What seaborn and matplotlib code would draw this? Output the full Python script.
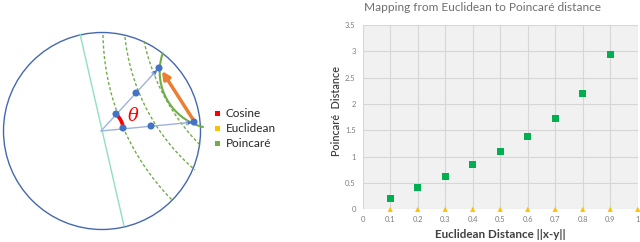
import numpy as np
import pandas as pd
import matplotlib
matplotlib.use("Agg")
import matplotlib.pyplot as plt
import seaborn as sns
from matplotlib.patches import Circle, Rectangle

# ---------------- data (right chart) ----------------
euclid_x = [0.1, 0.2, 0.3, 0.4, 0.5, 0.6, 0.7, 0.8, 0.9]
poincare_y = [0.20, 0.41, 0.62, 0.85, 1.10, 1.39, 1.73, 2.20, 2.94]
euclid_tri_x = [0.1, 0.2, 0.3, 0.4, 0.5, 0.6, 0.7, 0.8, 0.9, 1.0]
euclid_tri_y = [0, 0, 0, 0, 0, 0, 0, 0, 0, 0]
x_ticks = [0, 0.1, 0.2, 0.3, 0.4, 0.5, 0.6, 0.7, 0.8, 0.9, 1.0]
x_tick_labels = ["0", "0.1", "0.2", "0.3", "0.4", "0.5", "0.6", "0.7", "0.8", "0.9", "1"]
y_ticks = [0, 0.5, 1, 1.5, 2, 2.5, 3, 3.5]
y_tick_labels = ["0", "0.5", "1", "1.5", "2", "2.5", "3", "3.5"]
title = "Mapping from Euclidean to Poincaré distance"
x_label = "Euclidean Distance ||x-y||"
y_label = "Poincaré  Distance"

# ---------------- diagram legend ----------------
legend_labels = ["Cosine", "Euclidean", "Poincaré"]
legend_colors = ["#ff0000", "#ffc000", "#70ad47"]

sns.set_theme(style="white")
plt.rcParams['font.family'] = ['Lato', 'DejaVu Sans']

fig = plt.figure(figsize=(6.4, 2.42), dpi=100)

# ================= left diagram =================
axL = fig.add_axes([0, 0, 0.5, 1])
axL.set_xlim(0, 320)
axL.set_ylim(242, 0)
axL.axis('off')


def circle3(p1, p2, p3):
    (x1, y1), (x2, y2), (x3, y3) = p1, p2, p3
    A = np.array([[x2 - x1, y2 - y1], [x3 - x1, y3 - y1]], dtype=float) * 2
    b = np.array([x2**2 - x1**2 + y2**2 - y1**2, x3**2 - x1**2 + y3**2 - y1**2], dtype=float)
    c = np.linalg.solve(A, b)
    r = np.hypot(x1 - c[0], y1 - c[1])
    return c, r


def arc3(ax, p1, p2, p3, **kw):
    c, r = circle3(p1, p2, p3)
    a = [np.arctan2(p[1] - c[1], p[0] - c[0]) for p in (p1, p2, p3)]
    d13 = (a[2] - a[0]) % (2 * np.pi)
    d12 = (a[1] - a[0]) % (2 * np.pi)
    if d12 < d13:
        t = np.linspace(a[0], a[0] + d13, 200)
    else:
        t = np.linspace(a[0], a[0] - (2 * np.pi - d13), 200)
    ax.plot(c[0] + r * np.cos(t), c[1] + r * np.sin(t), **kw)


# disk boundary
axL.add_patch(Circle((102, 131), 98.5, fill=False, ec='#4468b0', lw=1.0))
# straight geodesic
axL.plot([80, 124], [34, 226], color='#8fe0bf', lw=1.0)

# dashed arcs
dash = dict(color='#70ad47', lw=1.0, ls=(0, (2.2, 1.6)))
arc3(axL, (103, 35), (117, 112), (172, 200), **dash)
arc3(axL, (125, 37), (140, 95), (195, 170), **dash)
arc3(axL, (144, 41), (162, 92), (201, 146), **dash)

# solid geodesic
arc3(axL, (162.7, 53.3), (161.5, 86), (203, 127), color='#70ad47', lw=1.5)

# vectors
O = (101, 131)
for end in [(157, 70), (192, 122.3)]:
    axL.annotate('', xy=end, xytext=O,
                 arrowprops=dict(arrowstyle='-|>', color='#9db3df', lw=1.0,
                                 mutation_scale=7, shrinkA=0, shrinkB=0))
axL.annotate('', xy=(157, 70), xytext=(150, 77.5),
             arrowprops=dict(arrowstyle='-|>', color='#4472c4', lw=0.1,
                             mutation_scale=7, shrinkA=0, shrinkB=0))
axL.annotate('', xy=(192, 122.3), xytext=(182, 123.3),
             arrowprops=dict(arrowstyle='-|>', color='#4472c4', lw=0.1,
                             mutation_scale=7, shrinkA=0, shrinkB=0))

# red angle arc
t = np.linspace(np.deg2rad(-48), np.deg2rad(-6), 60)
axL.plot(O[0] + 22.5 * np.cos(t), O[1] + 22.5 * np.sin(t),
         color='#ff0000', lw=2.6, solid_capstyle='butt')
axL.text(133, 116, 'θ', color='#ff0000', fontsize=13, style='italic',
         family=['DejaVu Serif'], ha='center', va='center')

# orange arrow
axL.annotate('', xy=(162, 71), xytext=(194, 121),
             arrowprops=dict(arrowstyle='-|>', color='#ed7d31', lw=2.5,
                             mutation_scale=11, shrinkA=0, shrinkB=0))

# blue dots
dots_x = [116, 136, 159, 123, 151, 194]
dots_y = [114, 93, 68, 128, 126, 122]
axL.scatter(dots_x, dots_y, s=26, color='#4472c4', zorder=5, edgecolor='none')

# legend
for i, (lab, col) in enumerate(zip(legend_labels, legend_colors)):
    y = 113.5 + i * 15
    axL.add_patch(Rectangle((214.5, y - 2.8), 5.5, 5.5, color=col, lw=0))
    axL.text(225.5, y, lab, fontsize=8.5, color='#262626', va='center', ha='left')

# ================= right chart =================
axR = fig.add_axes([362.7 / 640, 32.7 / 242, 275 / 640, 184.3 / 242])
axR.set_facecolor('#f1f1f1')
df_p = pd.DataFrame({"x": euclid_x, "y": poincare_y})
df_e = pd.DataFrame({"x": euclid_tri_x, "y": euclid_tri_y})
sns.scatterplot(data=df_e, x="x", y="y", marker='^', color='#ffc000', s=14,
                edgecolor='none', ax=axR, clip_on=False, zorder=4)
sns.scatterplot(data=df_p, x="x", y="y", marker='s', color='#00b050', s=26,
                edgecolor='none', ax=axR, zorder=5)
axR.set_xlim(0, 1)
axR.set_ylim(0, 3.5)
axR.set_xticks(x_ticks, x_tick_labels)
axR.set_yticks(y_ticks, y_tick_labels)
axR.tick_params(axis='both', labelsize=5.5, colors='#7f7f7f', length=0, pad=5.0)
axR.grid(True, color='#d6d6d6', lw=0.8)
axR.set_axisbelow(True)
for s in axR.spines.values():
    s.set_visible(False)
axR.set_xlabel('')
axR.set_ylabel('')

fig.text(482.5 / 640, 1 - 7.5 / 242, title, ha='center', va='center', fontsize=8.6, color='#6f6f6f')
fig.text(500 / 640, 1 - 234 / 242, x_label, ha='center', va='center', fontsize=8.4,
         fontweight='bold', color='#404040')
fig.text(337 / 640, 1 - 111 / 242, y_label, ha='center', va='center', fontsize=7.8,
         fontweight='semibold', color='#404040', rotation=90)

fig.savefig('out.png', dpi=100)
